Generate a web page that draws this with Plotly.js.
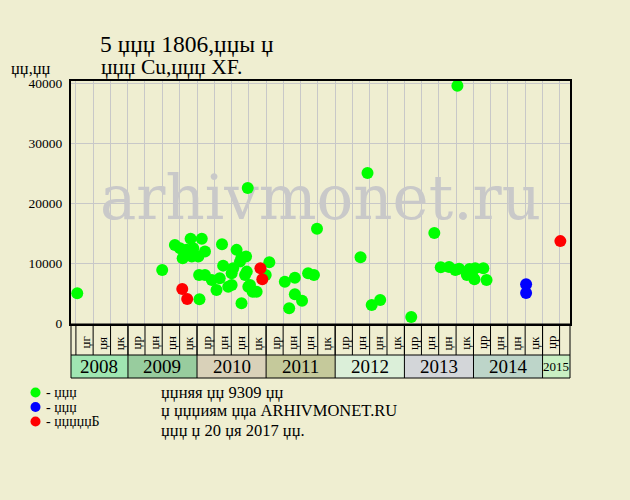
<!DOCTYPE html>
<html><head><meta charset="utf-8">
<script src="https://cdn.plot.ly/plotly-3.0.1.min.js"></script>
<style>html,body{margin:0;padding:0;background:#efeed1;}#chart{width:630px;height:500px;}</style>
</head><body><div id="chart"></div>
<script>
// ---------- data ----------
const greenDates = ['2008-04-08','2009-07-01','2009-09-06','2009-10-03','2009-11-28','2010-01-26','2009-10-17','2009-12-04','2010-01-08','2010-02-12','2009-11-07','2009-12-12','2010-05-13','2010-01-12','2010-02-12','2010-03-20','2010-05-01','2010-04-14','2010-06-15','2010-05-19','2010-07-11','2010-07-29','2010-08-24','2010-09-17','2010-08-16','2010-09-26','2010-09-21','2010-09-12','2010-07-03','2010-09-29','2010-10-22','2010-11-12','2010-10-08','2010-08-24','2010-01-14','2010-07-03','2011-01-18','2010-12-30','2011-04-10','2011-06-02','2011-06-02','2011-07-10','2011-05-03','2011-08-11','2011-09-11','2011-09-27','2012-05-14','2012-06-20','2012-07-12','2012-08-26','2013-02-06','2013-06-08','2013-07-12','2013-08-25','2013-09-27','2013-10-17','2013-11-27','2013-12-11','2013-12-24','2014-01-06','2014-01-10','2014-02-22','2014-03-11','2013-10-08'];
const greenValues = [5000,8870,13050,12500,14060,14060,10830,11100,11100,11940,12220,12500,13170,8030,8030,7200,7480,5520,6080,9590,9160,12220,10930,11100,10260,22550,8590,8030,8320,6080,5240,5240,6360,3300,3970,6360,10160,8030,6910,7580,4800,3730,2460,8320,8030,15730,11000,25060,3010,3850,1000,15020,9320,9370,8870,9090,8030,9040,8030,7310,9160,9160,7200,39620];
const blueDates = ['2014-10-06','2014-10-06'];
const blueValues = [6480,5020];
const redDates = ['2009-10-15','2009-11-10','2010-12-02','2010-12-12','2015-04-05'];
const redValues = [5690,4020,9160,7330,13680];

const quarterStarts = ['2008-04-01','2008-07-01','2008-10-01',
  '2009-01-01','2009-04-01','2009-07-01','2009-10-01',
  '2010-01-01','2010-04-01','2010-07-01','2010-10-01',
  '2011-01-01','2011-04-01','2011-07-01','2011-10-01',
  '2012-01-01','2012-04-01','2012-07-01','2012-10-01',
  '2013-01-01','2013-04-01','2013-07-01','2013-10-01',
  '2014-01-01','2014-04-01','2014-07-01','2014-10-01',
  '2015-01-01','2015-04-01'];
const quarterLabels = ['џг','џя','џк',
  'џр','џн','џн','џк','џр','џн','џн','џк','џр','џн','џн','џк',
  'џр','џн','џн','џк','џр','џн','џн','џк','џр','џн','џн','џк','џр'];
const years = ['2008','2009','2010','2011','2012','2013','2014','2015'];
const yTicks = [0,10000,20000,30000,40000];

const titleLine1 = '5 џџџ 1806,џџы џ';
const titleLine2 = 'џџџ Cu,џџџ XF.';
const yTitle = 'џџ,џџ';
const legendNames = ['- џџџ','- џџџ','- џџџџџБ'];
const notes = ['џџняя џџ 9309 џџ','џ џџџиям џџа ARHIVMONET.RU','џџџ џ 20 џя 2017 џџ.'];
const watermark = 'arhivmonet.ru';

// ---------- style ----------
const BG = '#efeed1';
const GRID = '#c8c8c8';
const yearColors = ['#a0e6b2','#98cc9e','#d9d1b9','#c5c99b','#dbefd9','#d3d6d9','#bdd5c9','#c9f0c3'];
const seriesColors = ['#00ff00','#0000ff','#ff0000'];
const xRange = ['2008-03-06','2015-05-26'];
const yRange = [-150, 40400];
const FONT = 'Liberation Serif';

const ms = s => Date.parse(s.length === 10 ? s + 'T00:00:00Z' : s.replace(' ','T') + 'Z');
const toStr = t => new Date(t).toISOString().slice(0,19).replace('T',' ');
const mid = (a,b) => toStr((ms(a)+ms(b))/2);
const clampDate = (s) => toStr(Math.min(Math.max(ms(s), ms(xRange[0])), ms(xRange[1])));

const traces = [
  {x:[mid(xRange[0],xRange[1])], y:[(yRange[0]+yRange[1])/2 - 200], mode:'text', text:[watermark],
   textfont:{family:'DejaVu Serif', size:61, color:'#c9c9c9'}, hoverinfo:'skip', showlegend:false},
  {x:greenDates, y:greenValues, mode:'markers', type:'scatter', name:legendNames[0],
   marker:{color:seriesColors[0], size:12}},
  {x:blueDates, y:blueValues, mode:'markers', type:'scatter', name:legendNames[1],
   marker:{color:seriesColors[1], size:12}},
  {x:redDates, y:redValues, mode:'markers', type:'scatter', name:legendNames[2],
   marker:{color:seriesColors[2], size:12}}
];

const H = 243, W = 499;
const py = p => (324 - p) / H;   // pixel y -> paper y
const px = p => (p - 71) / W;    // pixel x -> paper x
const yQ = py(355), yB = py(378);

const shapes = [];
const annotations = [];
// year cells
years.forEach((yr, i) => {
  const s = clampDate(yr + '-01-01');
  const e = clampDate((+yr + 1) + '-01-01');
  shapes.push({type:'rect', xref:'x', yref:'paper', x0:s, x1:e, y0:yB, y1:yQ,
    fillcolor:yearColors[i], line:{width:0}, layer:'below'});
  annotations.push({xref:'x', yref:'paper', x:mid(s,e), y:(yQ+yB)/2, text:yr, showarrow:false,
    font:{family:FONT, size: yr === '2015' ? 13 : 19, color:'#000'}, yanchor:'middle'});
  if (i > 0) shapes.push({type:'line', xref:'x', yref:'paper', x0:yr+'-01-01', x1:yr+'-01-01', y0:0, y1:yB,
    line:{color:'#000', width:1}});
});
// quarter cells
quarterStarts.forEach((q, i) => {
  shapes.push({type:'line', xref:'x', yref:'paper', x0:q, x1:q, y0:0, y1:yQ, line:{color:'#000', width:1}});
  if (i < quarterLabels.length) {
    annotations.push({xref:'x', yref:'paper', x:mid(q, quarterStarts[i+1]), y:py(343), yanchor:'middle',
      text:quarterLabels[i], textangle:-90, showarrow:false, borderpad:0,
      font:{family:FONT, size:13, color:'#000'}});
  }
});
// box below plot
shapes.push({type:'rect', xref:'paper', yref:'paper', x0:0, x1:1, y0:yB, y1:0, line:{color:'#000', width:1}});
shapes.push({type:'line', xref:'paper', yref:'paper', x0:0, x1:1, y0:yQ, y1:yQ, line:{color:'#000', width:1}});

// legend (markers + texts)
const legY = [392.5, 407, 421.5];
legendNames.forEach((n, i) => {
  shapes.push({type:'circle', xref:'paper', yref:'paper', x0:px(30.5), x1:px(40.5), y0:py(legY[i]+5), y1:py(legY[i]-5),
    fillcolor:seriesColors[i], line:{width:0}});
  annotations.push({xref:'paper', yref:'paper', x:px(45), y:py(legY[i]), xanchor:'left', yanchor:'middle',
    text:n, showarrow:false, borderpad:0, font:{family:FONT, size:14, color:'#000'}});
});
const noteY = [392, 410.5, 430.5];
notes.forEach((n, i) => {
  annotations.push({xref:'paper', yref:'paper', x:px(160), y:py(noteY[i]), xanchor:'left', yanchor:'middle',
    text:n, showarrow:false, borderpad:0, font:{family:FONT, size:16.5, color:'#000'}});
});
annotations.push({xref:'paper', yref:'paper', x:px(100), y:py(67), xanchor:'left', yanchor:'middle',
  text:titleLine2, showarrow:false, borderpad:0, font:{family:FONT, size:21.5, color:'#000'}});
annotations.push({xref:'paper', yref:'paper', x:px(10), y:py(68.5), xanchor:'left', yanchor:'middle',
  text:yTitle, showarrow:false, borderpad:0, font:{family:FONT, size:16.5, color:'#000'}});

const layout = {
  width:630, height:500,
  paper_bgcolor:BG, plot_bgcolor:BG,
  margin:{l:71, r:60, t:81, b:176, pad:0},
  showlegend:false,
  font:{family:FONT, color:'#000'},
  title:{text:titleLine1, x:100/630, xanchor:'left', xref:'container', y:1-44/500, yanchor:'middle',
    font:{family:FONT, size:23.5, color:'#000'}},
  xaxis:{type:'date', range:xRange, tick0:'2008-04-01', dtick:'M3', showgrid:true, gridcolor:GRID, gridwidth:1,
    showticklabels:false, ticks:'', showline:true, mirror:true, linecolor:'#000', linewidth:2, zeroline:false, fixedrange:true},
  yaxis:{range:yRange, tickvals:yTicks, ticktext:yTicks.map(String), showgrid:true, gridcolor:GRID, gridwidth:1,
    showline:true, mirror:true, linecolor:'#000', linewidth:2, zeroline:false, ticks:'', ticklabelstandoff:4,
    tickfont:{family:FONT, size:13.5, color:'#000'}, fixedrange:true},
  shapes:shapes, annotations:annotations
};
Plotly.newPlot('chart', traces, layout, {displayModeBar:false, staticPlot:true});
</script></body></html>
